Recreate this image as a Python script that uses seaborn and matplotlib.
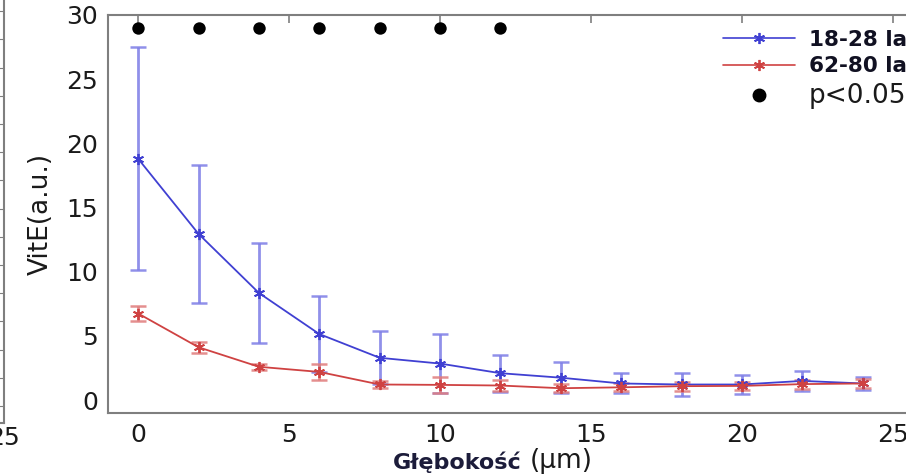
import matplotlib
matplotlib.use("Agg")
import matplotlib.pyplot as plt
from matplotlib.lines import Line2D
from matplotlib.ticker import MultipleLocator
import seaborn as sns
import pandas as pd

# ---- data ----
depth = [0, 2, 4, 6, 8, 10, 12, 14, 16, 18, 20, 22, 24]
young_mean = [18.8, 12.95, 8.35, 5.15, 3.3, 2.85, 2.1, 1.75, 1.3, 1.22, 1.22, 1.5, 1.3]
young_err = [8.7, 5.4, 3.9, 2.95, 2.05, 2.28, 1.45, 1.2, 0.78, 0.9, 0.75, 0.75, 0.52]
old_mean = [6.75, 4.12, 2.6, 2.2, 1.22, 1.19, 1.14, 0.93, 1.0, 1.09, 1.11, 1.25, 1.3]
old_err = [0.58, 0.44, 0.25, 0.65, 0.28, 0.62, 0.45, 0.3, 0.3, 0.35, 0.3, 0.35, 0.35]
sig_depth = [0, 2, 4, 6, 8, 10, 12]
sig_level = [29, 29, 29, 29, 29, 29, 29]
labels = ["18-28 lat", "62-80 lat", "p<0.05"]
x_ticks = [0, 5, 10, 15, 20, 25]
y_ticks = [0, 5, 10, 15, 20, 25, 30]

sns.set_style("white")
plt.rcParams["font.family"] = ["DejaVu Sans"]

W, H = 906, 475
fig = plt.figure(figsize=(W / 100, H / 100), dpi=100)

GRAY = "#7f7f7f"
BLUE = "#4040d2"
BLUE_E = "#7d7de6"
RED = "#cf4242"
RED_E = "#e07c7c"
AST = (6, 2, 0)

# ---- neighbouring panel (only its right edge is visible) ----
ax0 = fig.add_axes([-0.5, (H - 423) / H, 0.5 + 4 / W, 423 / H + 0.1])
ax0.set_xlim(-1, 25)
ax0.set_xticks([25])
ax0.set_ylim(-0.6, 14.4 + 0.1 * H / 28.2)
ax0.yaxis.set_major_locator(MultipleLocator(1))
ax0.set_yticklabels([])
ax0.tick_params(direction="in", right=True, left=False, length=5, color=GRAY,
                labelsize=18, pad=2, labelcolor="#1a1a1a")
for s in ax0.spines.values():
    s.set_color(GRAY)
    s.set_linewidth(1.5)

# ---- main panel ----
left = 108 / W
bottom = (H - 413) / H
height = 398 / H
width = 815 / W
ax = fig.add_axes([left, bottom, width, height])

df_y = pd.DataFrame({"depth": depth, "value": young_mean})
df_o = pd.DataFrame({"depth": depth, "value": old_mean})

ax.errorbar(depth, young_mean, yerr=young_err, fmt="none", ecolor=BLUE_E,
            elinewidth=2.0, capsize=5.5, capthick=1.8, alpha=0.85, zorder=2)
ax.errorbar(depth, old_mean, yerr=old_err, fmt="none", ecolor=RED_E,
            elinewidth=2.0, capsize=5.5, capthick=1.8, alpha=0.85, zorder=2)

sns.lineplot(data=df_y, x="depth", y="value", color=BLUE, marker=AST,
             markersize=8, markeredgewidth=1.3, markeredgecolor=BLUE,
             linewidth=1.3, ax=ax, zorder=3)
sns.lineplot(data=df_o, x="depth", y="value", color=RED, marker=AST,
             markersize=8, markeredgewidth=1.3, markeredgecolor=RED,
             linewidth=1.3, ax=ax, zorder=3)
sns.scatterplot(x=sig_depth, y=sig_level, color="black", s=80, marker="o",
                edgecolor="black", linewidth=0, ax=ax, zorder=4)

ax.set_xlim(-1, 26)
ax.set_ylim(-1, 30)
ax.set_xticks(x_ticks)
ax.set_yticks(y_ticks)
ax.tick_params(direction="in", top=True, right=True, length=6, width=1.2,
               color=GRAY, labelsize=18, pad=7, labelcolor="#1a1a1a")
for s in ax.spines.values():
    s.set_color(GRAY)
    s.set_linewidth(1.5)

ax.set_xlabel("")
ax.set_ylabel("VitE(a.u.)", fontsize=19, color="#1a1a1a")
ax.yaxis.set_label_coords((54 - 108) / 815, 0.5)

fig.text(393 / W, (H - 462) / H, "Głębokość", fontsize=16, fontweight="bold",
         color="#1c1c3a", ha="left", va="center")
fig.text(530 / W, (H - 461) / H, "(μm)", fontsize=19, color="#1a1a1a",
         ha="left", va="center")

handles = [
    Line2D([], [], color=BLUE, marker=AST, markersize=8, markeredgewidth=1.3, linewidth=1.2),
    Line2D([], [], color=RED, marker=AST, markersize=8, markeredgewidth=1.3, linewidth=1.2),
    Line2D([], [], color="black", marker="o", markersize=9, linestyle="none"),
]
leg = fig.legend(handles, labels, loc="upper left",
                 bbox_to_anchor=(723 / W, (H - 30) / H),
                 bbox_transform=fig.transFigure, frameon=False,
                 prop={"size": 15.5, "weight": "bold"},
                 handlelength=3.35, handletextpad=0.65, labelspacing=0.3,
                 borderpad=0.0, borderaxespad=0.0)
for t in leg.get_texts()[:2]:
    t.set_color("#111122")
last = leg.get_texts()[2]
last.set_fontweight("normal")
last.set_fontsize(19)
last.set_color("#1a1a1a")

fig.savefig("out.png", dpi=100)
